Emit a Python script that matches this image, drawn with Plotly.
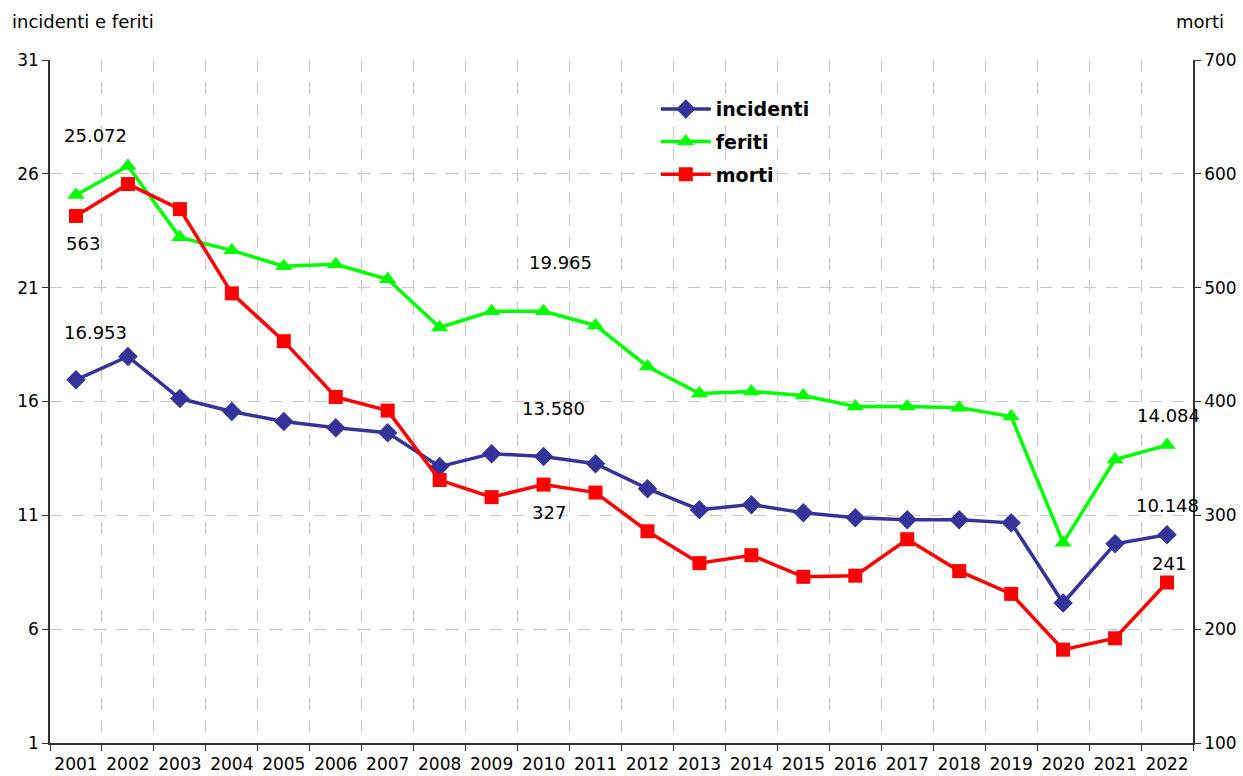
import plotly.graph_objects as go

years = [str(y) for y in range(2001, 2023)]
incidenti = [16.953, 17.98, 16.13, 15.56, 15.12, 14.85, 14.63, 13.14, 13.71, 13.580,
             13.27, 12.17, 11.25, 11.47, 11.11, 10.89, 10.81, 10.81, 10.67, 7.15, 9.75, 10.148]
feriti = [25.072, 26.34, 23.21, 22.64, 21.94, 22.03, 21.37, 19.25, 19.96, 19.965,
          19.34, 17.54, 16.35, 16.44, 16.26, 15.78, 15.78, 15.73, 15.34, 9.8, 13.45, 14.084]
morti = [563, 591, 569, 495, 453, 404, 392, 331, 316, 327,
         320, 286, 258, 265, 246, 247, 279, 251, 231, 182, 192, 241]
left_ticks = [1, 6, 11, 16, 21, 26, 31]
right_ticks = [100, 200, 300, 400, 500, 600, 700]
label_years = ["2001", "2010", "2022"]

FONT = "DejaVu Sans, Verdana, sans-serif"
GRID = "#c8c8c8"

fig = go.Figure()
fig.add_trace(go.Scatter(x=years, y=incidenti, name="incidenti", mode="lines+markers",
                         legendgroup="a",
                         line=dict(color="#333399", width=3.5),
                         marker=dict(symbol="diamond", size=15, color="#333399")))
fig.add_trace(go.Scatter(x=years, y=feriti, name="feriti", mode="lines+markers",
                         legendgroup="b",
                         line=dict(color="#00ff00", width=3.5),
                         marker=dict(symbol="triangle-up", size=15, color="#00ff00")))
fig.add_trace(go.Scatter(x=years, y=morti, name="morti", mode="lines+markers", yaxis="y2",
                         legendgroup="c",
                         line=dict(color="#ff0000", width=3.5),
                         marker=dict(symbol="square", size=14, color="#ff0000")))


def fmt_k(v):
    return f"{v:.3f}"


# data labels: (series values, axis, formatter, {year: (xshift, yshift)})
label_specs = [
    (feriti, "y", fmt_k, {"2001": (20, 59), "2010": (17, 49), "2022": (1, 30)}),
    (incidenti, "y", fmt_k, {"2001": (20, 47), "2010": (10, 48), "2022": (0, 29)}),
    (morti, "y2", lambda v: str(int(v)), {"2001": (7, -28), "2010": (5, -28), "2022": (2, 19)}),
]
annotations = []
for vals, yref, f, shifts in label_specs:
    for yr in label_years:
        i = years.index(yr)
        xs, ys = shifts[yr]
        annotations.append(dict(x=i, y=vals[i], xref="x", yref=yref, text=f(vals[i]),
                                showarrow=False, xshift=xs, yshift=ys,
                                xanchor="center", yanchor="middle",
                                font=dict(size=18, color="black", family=FONT)))

annotations.append(dict(x=-0.035, y=1.056, xref="paper", yref="paper", xanchor="left",
                        yanchor="middle", text="incidenti e feriti", showarrow=False,
                        font=dict(size=18, color="black", family=FONT)))
annotations.append(dict(x=1.006, y=1.056, xref="paper", yref="paper", xanchor="center",
                        yanchor="middle", text="morti", showarrow=False,
                        font=dict(size=18, color="black", family=FONT)))

axis_common = dict(ticks="outside", ticklen=6, tickcolor="#333333", showline=True,
                   linecolor="#333333", linewidth=1.5, zeroline=False, automargin=False,
                   tickfont=dict(size=17, family=FONT, color="black"))

fig.update_layout(
    width=1243, height=776,
    margin=dict(l=50, r=50, t=60, b=33),
    paper_bgcolor="white", plot_bgcolor="white",
    font=dict(family=FONT, size=17, color="black"),
    showlegend=True,
    legend=dict(x=0.53, y=0.956, xanchor="left", yanchor="top",
                bgcolor="rgba(0,0,0,0)",
                font=dict(size=19, color="black", family=FONT, weight="bold"),
                tracegroupgap=5, itemwidth=50),
    annotations=annotations,
    xaxis=dict(type="category", range=[-0.5, len(years) - 0.5], tickson="boundaries",
               tickangle=0, ticklabelstandoff=5, showgrid=True, gridcolor=GRID,
               griddash="12px,10px", gridwidth=1, **axis_common),
    yaxis=dict(range=[1, 31], tickvals=left_ticks, showgrid=True, gridcolor=GRID,
               griddash="12px,10px", gridwidth=1, **axis_common),
    yaxis2=dict(range=[100, 700], tickvals=right_ticks, overlaying="y", side="right",
                showgrid=False, **axis_common),
)

fig.write_html("out.html", config={"displayModeBar": False},
               post_script="document.body.style.margin='0';document.body.style.overflow='hidden';")
